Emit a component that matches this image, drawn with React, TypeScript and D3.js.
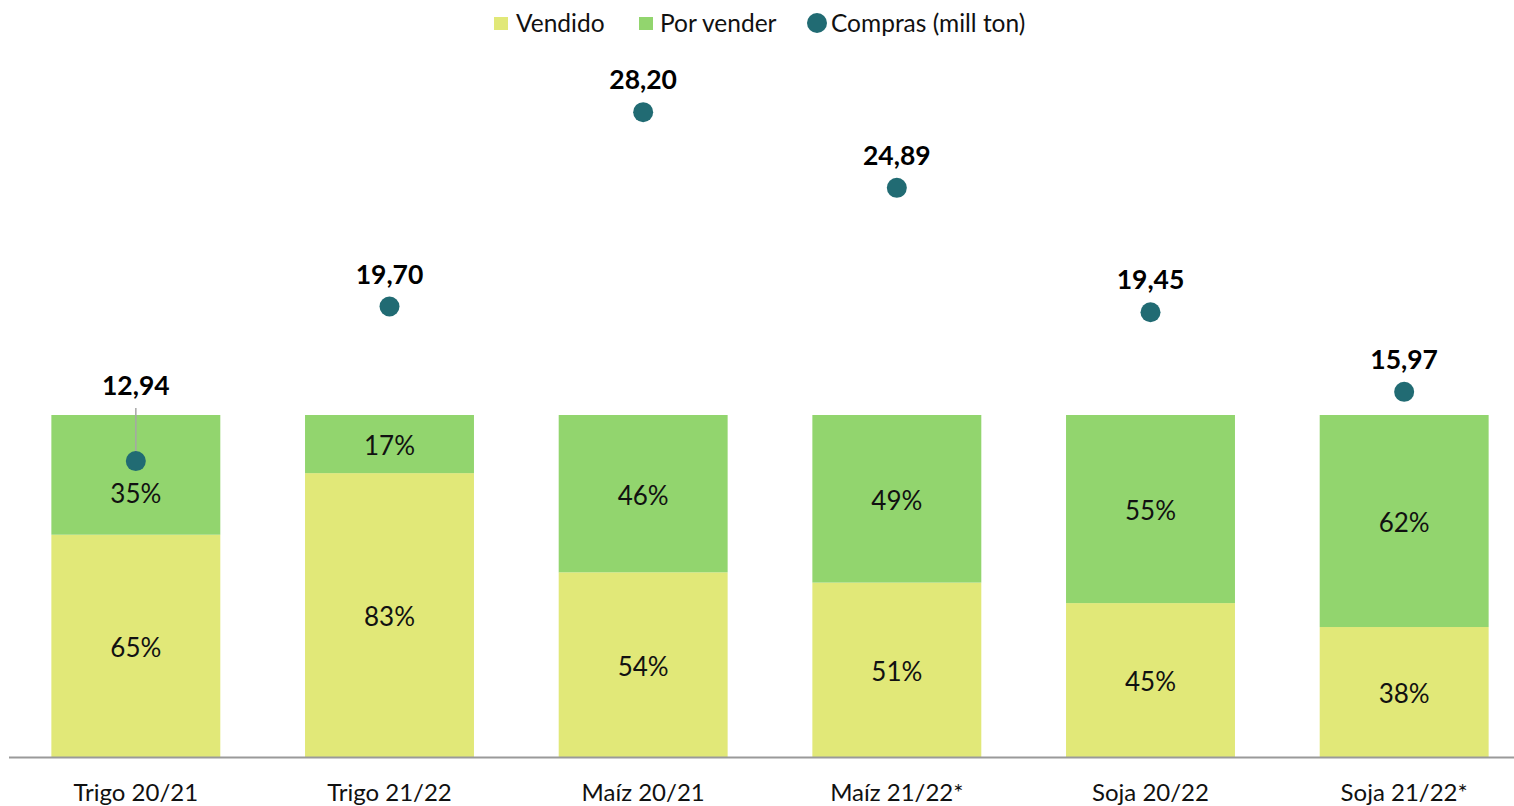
import React from "react";
import * as d3 from "d3";

const categories = ["Trigo 20/21", "Trigo 21/22", "Maíz 20/21", "Maíz 21/22*", "Soja 20/22", "Soja 21/22*"];
const vendido = [65, 83, 54, 51, 45, 38];
const porVender = [35, 17, 46, 49, 55, 62];
const compras = [12.94, 19.70, 28.20, 24.89, 19.45, 15.97];
const comprasLabels = ["12,94", "19,70", "28,20", "24,89", "19,45", "15,97"];

const W = 1514;
const H = 806;
const FONT = "Lato, 'Open Sans', sans-serif";
const C_VEND = "#e1e878";
const C_POR = "#92d56e";
const C_DOT = "#216b73";

export default function App() {
  const x = d3.scaleBand<string>().domain(categories).range([9, 1531]).paddingInner(0.334).paddingOuter(0.167);
  const y = d3.scaleLinear().domain([0, 200]).range([757, 73]);
  const y2 = d3.scaleLinear().domain([0, 30]).range([757, 71]);
  const bw = x.bandwidth();

  return (
    <div style={{ position: "fixed", left: 0, top: 0 }}>
      <svg width={W} height={H} style={{ display: "block", fontFamily: FONT }}>
        <rect width={W} height={H} fill="#fff" />
        {/* legend */}
        <g>
          <rect x={494} y={17} width={14} height={13} fill={C_VEND} />
          <text x={516} y={32} fontSize={24.5} fill="#111">Vendido</text>
          <rect x={639} y={17} width={14} height={13} fill={C_POR} />
          <text x={660} y={32} fontSize={24.5} fill="#111">Por vender</text>
          <circle cx={817} cy={23} r={10} fill={C_DOT} />
          <text x={831} y={32} fontSize={24.5} fill="#111">Compras (mill ton)</text>
        </g>
        {categories.map((c, i) => {
          const x0 = x(c)!;
          const cx = x0 + bw / 2;
          const yV = y(vendido[i]);
          const yP = y(vendido[i] + porVender[i]);
          const dotY = y2(compras[i]);
          const callout = i === 0;
          const labelY = callout ? dotY - 66 : dotY - 23;
          const porLabelY = (yP + yV) / 2 + (callout ? 17 : 0);
          return (
            <g key={c}>
              <rect x={x0} y={yV} width={bw} height={757 - yV} fill={C_VEND} />
              <rect x={x0} y={yP} width={bw} height={yV - yP} fill={C_POR} />
              <text x={cx} y={(757 + yV) / 2} dy="0.42em" textAnchor="middle" fontSize={26} fill="#111">{vendido[i]}%</text>
              <text x={cx} y={porLabelY} dy="0.42em" textAnchor="middle" fontSize={26} fill="#111">{porVender[i]}%</text>
              {callout && <line x1={cx} x2={cx} y1={labelY + 13} y2={dotY} stroke="#a6a6a6" strokeWidth={1.5} />}
              <circle cx={cx} cy={dotY} r={10} fill={C_DOT} />
              <text x={cx} y={labelY} textAnchor="middle" fontSize={26.5} fontWeight="bold" fill="#000">{comprasLabels[i]}</text>
              <text x={cx} y={801} textAnchor="middle" fontSize={24} fill="#111">{c}</text>
            </g>
          );
        })}
        <line x1={9} x2={W} y1={757.5} y2={757.5} stroke="#9a9a9a" strokeWidth={2} />
      </svg>
    </div>
  );
}
